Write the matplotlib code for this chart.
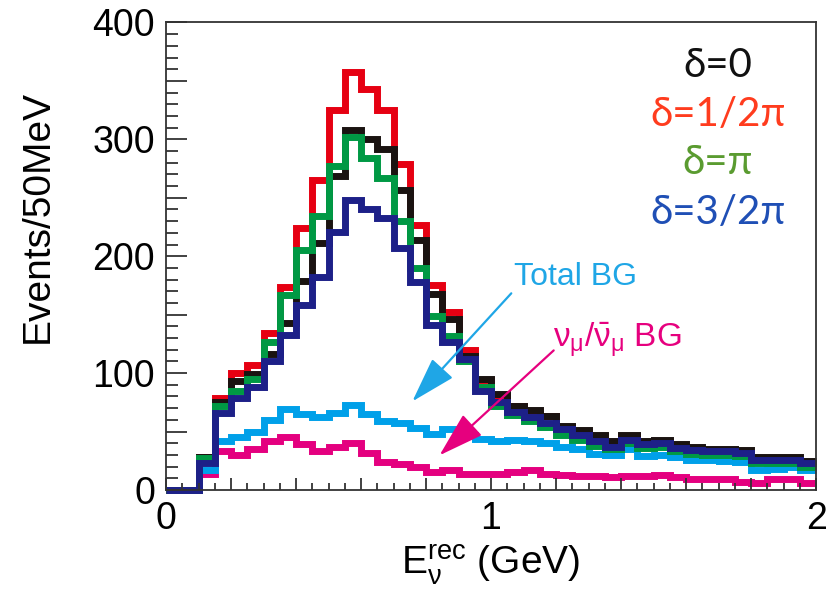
import numpy as np
import matplotlib
matplotlib.use("Agg")
import matplotlib.pyplot as plt
from matplotlib.ticker import MultipleLocator, FuncFormatter

plt.rcParams['font.family'] = ['Liberation Sans', 'DejaVu Sans']
plt.rcParams['mathtext.fontset'] = 'custom'
plt.rcParams['mathtext.rm'] = 'Liberation Sans'
plt.rcParams['mathtext.it'] = 'Liberation Sans'

# 50 MeV bins from 0 to 2 GeV
edges = np.linspace(0, 2, 41)

delta_0 = [0, 0, 28, 75, 93, 99, 116, 143, 179, 211,
           269, 308, 300, 292, 257, 214, 168, 146, 115, 95,
           82, 72, 68, 63, 55, 51, 47, 42, 47, 42,
           43, 39, 37, 35, 35, 34, 28, 28, 28, 25]
delta_half_pi = [0, 0, 28, 79, 100, 107, 134, 174, 224, 265,
                 325, 358, 343, 325, 279, 227, 175, 152, 120, 94,
                 80, 72, 67, 63, 54, 50, 46, 41, 46, 40,
                 41, 37, 35, 34, 33, 32, 26, 26, 26, 23]
delta_pi = [0, 0, 27, 72, 85, 95, 127, 167, 205, 234,
            277, 302, 284, 267, 230, 190, 149, 132, 110, 88,
            72, 64, 59, 54, 47, 43, 38, 35, 40, 36,
            37, 33, 31, 30, 30, 29, 23, 23, 23, 20]
delta_3half_pi = [0, 0, 23, 66, 79, 88, 110, 133, 158, 182,
                  221, 248, 240, 233, 207, 178, 141, 127, 112, 85,
                  75, 67, 62, 57, 52, 47, 42, 37, 43, 39,
                  40, 36, 34, 33, 33, 32, 26, 26, 26, 23]
total_bg = [0, 0, 17, 42, 45, 50, 60, 69, 65, 62,
            66, 73, 65, 59, 57, 53, 48, 52, 47, 44,
            42, 43, 42, 40, 37, 35, 31, 30, 35, 29,
            30, 28, 26, 26, 25, 24, 17, 18, 20, 17]
numu_bg = [0, 0, 14, 33, 30, 35, 42, 45, 39, 33,
           37, 40, 32, 24, 22, 20, 15, 17, 14, 14,
           14, 15, 17, 14, 13, 12, 12, 11, 12, 12,
           13, 11, 9, 9, 9, 7, 6, 9, 9, 6]

fig = plt.figure(figsize=(8.26, 5.91), dpi=100)
ax = fig.add_axes([0.201, 0.171, 0.787, 0.791])

lw = 5
ax.stairs(numu_bg, edges, baseline=None, color='#e4007f', lw=lw, clip_on=False)
ax.stairs(total_bg, edges, baseline=None, color='#00a0e9', lw=lw, clip_on=False)
ax.stairs(delta_half_pi, edges, baseline=None, color='#e60012', lw=lw, clip_on=False)
ax.stairs(delta_0, edges, baseline=None, color='#1a1311', lw=lw, clip_on=False)
ax.stairs(delta_pi, edges, baseline=None, color='#009944', lw=lw, clip_on=False)
ax.stairs(delta_3half_pi, edges, baseline=None, color='#1d2088', lw=lw, clip_on=False)

ax.set_xlim(0, 2)
ax.set_ylim(0, 400)

ax.xaxis.set_major_locator(MultipleLocator(0.2))
ax.xaxis.set_minor_locator(MultipleLocator(0.05))
ax.xaxis.set_major_formatter(FuncFormatter(
    lambda v, p: '%d' % round(v) if abs(v - round(v)) < 1e-6 else ''))
ax.yaxis.set_major_locator(MultipleLocator(50))
ax.yaxis.set_minor_locator(MultipleLocator(10))
ax.yaxis.set_major_formatter(FuncFormatter(
    lambda v, p: '%d' % v if int(round(v)) % 100 == 0 else ''))

ax.tick_params(axis='both', which='both', direction='in', color='#333333',
               width=1.3, labelsize=27, top=False, right=False)
ax.tick_params(axis='y', which='major', length=15, pad=8)
ax.tick_params(axis='y', which='minor', length=8.5)
ax.tick_params(axis='x', which='major', length=9, pad=8)
ax.tick_params(axis='x', which='minor', length=5)
for s in ax.spines.values():
    s.set_color('#333333')
    s.set_linewidth(1.3)

ax.set_ylabel('Events/50MeV', fontsize=28)
ax.yaxis.set_label_coords(-0.17, 0.585)
ax.set_xlabel(r'E$_{\nu}^{\rm rec}$ (GeV)', fontsize=28, labelpad=4)

leg_font = ['Lato', 'DejaVu Sans']
ax.text(1.698, 363, 'δ=0', color='#111111', fontsize=29, ha='center', va='center', family=leg_font)
ax.text(1.698, 321, 'δ=1/2π', color='#ff3c1e', fontsize=29, ha='center', va='center', family=leg_font)
ax.text(1.698, 280, 'δ=π', color='#5a9b30', fontsize=29, ha='center', va='center', family=leg_font)
ax.text(1.698, 237, 'δ=3/2π', color='#1f4fb5', fontsize=29, ha='center', va='center', family=leg_font)

ax.text(1.07, 182, 'Total BG', color='#1fa6e6', fontsize=23, ha='left', va='center')
ax.text(1.19, 128, r'$\nu_{\mu}/\bar{\nu}_{\mu}$ BG', color='#e6007e', fontsize=24,
        ha='left', va='center')

ax.annotate('', xy=(0.752, 74), xytext=(1.068, 170),
            arrowprops=dict(arrowstyle='-|>,head_length=1.3,head_width=0.4',
                            color='#1fa6e6', lw=1.6, mutation_scale=22))
ax.annotate('', xy=(0.835, 28), xytext=(1.199, 121),
            arrowprops=dict(arrowstyle='-|>,head_length=1.3,head_width=0.4',
                            color='#e6007e', lw=1.6, mutation_scale=22))

fig.savefig('out.png', dpi=100)
